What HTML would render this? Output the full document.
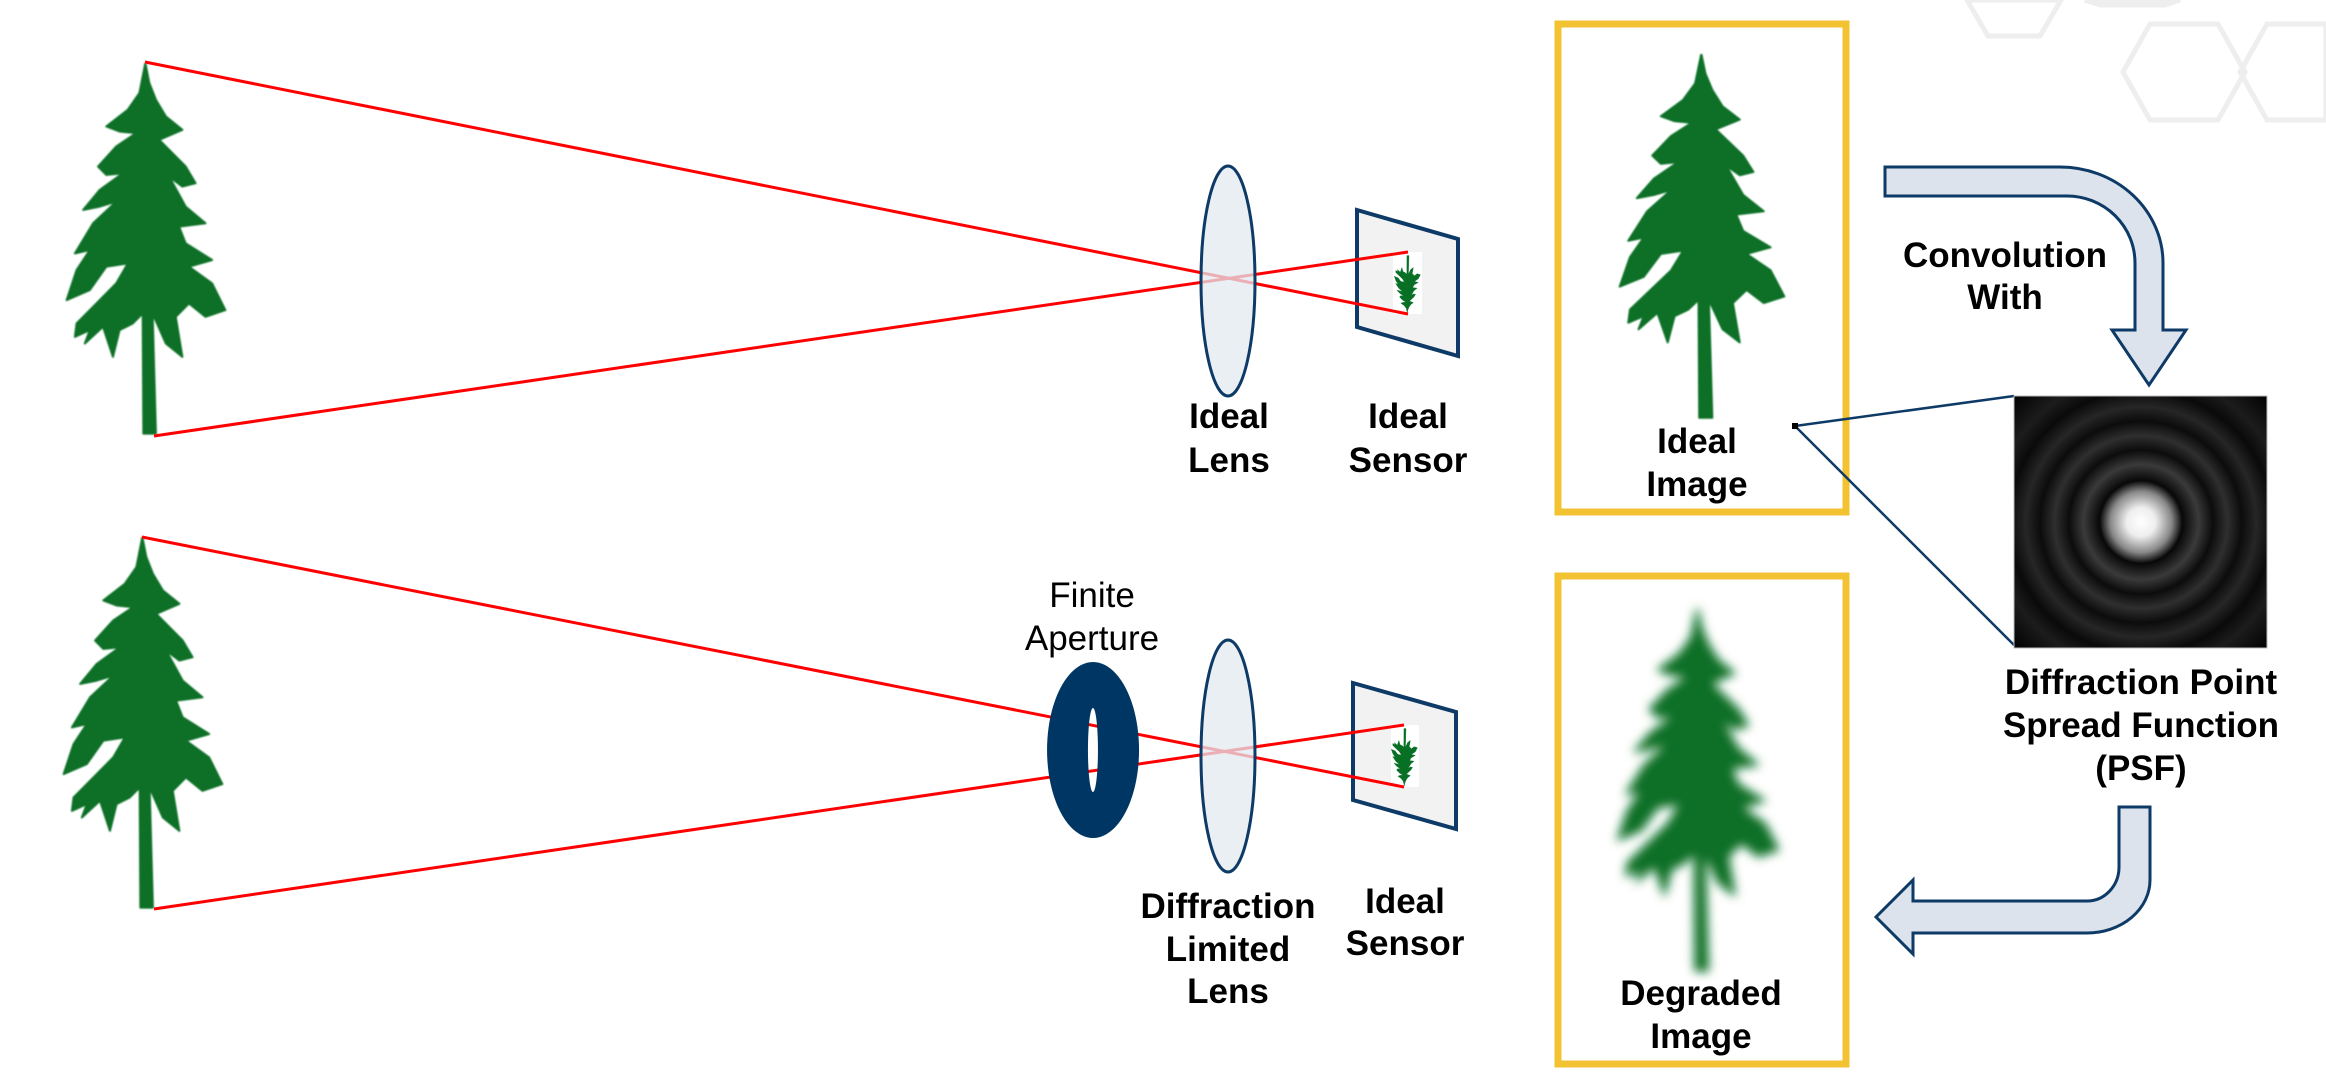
<!DOCTYPE html>
<html><head><meta charset="utf-8"><style>
html,body{margin:0;padding:0;background:#fff;}
svg{display:block;}
text{font-family:"Liberation Sans",Arial,sans-serif;fill:#000;}
.b{font-weight:bold;font-size:35px;}
</style></head><body>
<svg width="2326" height="1083" viewBox="0 0 2326 1083" xmlns="http://www.w3.org/2000/svg">
<defs>
<symbol id="tree" viewBox="75 40 490 1120" preserveAspectRatio="none">
<polygon fill="#077025" stroke="#077025" stroke-width="6" stroke-linejoin="round" points="318,40 300,130 265,180 200,230 240,245 290,250 230,290 175,350 200,375 250,370 180,420 130,480 180,470 230,455 160,520 105,610 150,600 110,660 80,750 150,720 200,650 265,640 230,700 170,760 110,820 105,860 150,840 135,880 190,830 220,920 240,840 280,820 310,790 312,1150 350,1150 340,790 380,880 430,920 410,800 450,760 500,800 560,780 520,700 450,650 520,630 440,580 420,530 500,520 440,470 390,380 430,410 470,400 440,350 390,300 360,270 430,240 380,200 350,150 330,100"/>
</symbol>
<filter id="blur" x="-20%" y="-20%" width="140%" height="140%"><feGaussianBlur stdDeviation="5"/></filter>
<filter id="soft"><feGaussianBlur stdDeviation="0.8"/></filter>
<radialGradient id="psf" cx="2141" cy="522" r="180" gradientUnits="userSpaceOnUse">
<stop offset="0" stop-color="#fff"/>
<stop offset="0.08" stop-color="#eee"/>
<stop offset="0.17" stop-color="#888"/>
<stop offset="0.23" stop-color="#080808"/>
<stop offset="0.32" stop-color="#3a3a3a"/>
<stop offset="0.40" stop-color="#0c0c0c"/>
<stop offset="0.48" stop-color="#2f2f2f"/>
<stop offset="0.56" stop-color="#0c0c0c"/>
<stop offset="0.64" stop-color="#262626"/>
<stop offset="0.73" stop-color="#0a0a0a"/>
<stop offset="0.82" stop-color="#1c1c1c"/>
<stop offset="1" stop-color="#000"/>
</radialGradient>
</defs>

<!-- faint hexagons -->
<g fill="none" stroke="#eeeeee" stroke-width="5">
<polygon points="1967,0 2061,0 2040,36 1988,36"/>
<polygon points="2123,72 2150,24 2218,24 2245,72 2218,120 2150,120"/>
<polygon points="2240,72 2267,24 2326,24 2326,120 2267,120"/>
<polygon points="2085,0 2180,0 2165,5 2100,5"/>
</g>

<!-- trees -->
<use href="#tree" x="65" y="63" width="162" height="374" filter="url(#soft)"/>
<use href="#tree" x="62" y="537" width="162" height="374" filter="url(#soft)"/>

<!-- top system -->
<polygon points="1357,210 1458,239 1458,356 1357,327" fill="#f2f2f2" stroke="#0d3a66" stroke-width="4"/>
<rect x="1393" y="252" width="29" height="62" fill="#fff"/>
<use href="#tree" x="0" y="0" width="162" height="374" transform="translate(1394,313) scale(0.165,-0.155)"/>
<line x1="145" y1="62" x2="1408" y2="314" stroke="#ff0000" stroke-width="3"/>
<line x1="154" y1="436" x2="1408" y2="252" stroke="#ff0000" stroke-width="3"/>
<ellipse cx="1228" cy="281" rx="27" ry="115" fill="#e3e9f0" fill-opacity="0.75" stroke="#0d3a66" stroke-width="3"/>
<text class="b" x="1229" y="428" text-anchor="middle">Ideal</text>
<text class="b" x="1229" y="472" text-anchor="middle">Lens</text>
<text class="b" x="1408" y="428" text-anchor="middle">Ideal</text>
<text class="b" x="1408" y="472" text-anchor="middle">Sensor</text>

<!-- bottom system -->
<polygon points="1353,683 1456,712 1456,829 1353,800" fill="#f2f2f2" stroke="#0d3a66" stroke-width="4"/>
<rect x="1391" y="725" width="28" height="62" fill="#fff"/>
<use href="#tree" x="0" y="0" width="162" height="374" transform="translate(1391,786) scale(0.165,-0.155)"/>
<line x1="142" y1="537" x2="1404" y2="787" stroke="#ff0000" stroke-width="3"/>
<line x1="154" y1="909" x2="1404" y2="725" stroke="#ff0000" stroke-width="3"/>
<path d="M1093,662 a46,88 0 1,0 0.1,0 Z M1093,708 a5,42 0 1,1 -0.1,0 Z" fill="#003663" fill-rule="evenodd"/>
<ellipse cx="1228" cy="756" rx="27" ry="116" fill="#e3e9f0" fill-opacity="0.75" stroke="#0d3a66" stroke-width="3"/>
<text x="1092" y="607" text-anchor="middle" font-size="35">Finite</text>
<text x="1092" y="650" text-anchor="middle" font-size="35">Aperture</text>
<text class="b" x="1228" y="918" text-anchor="middle">Diffraction</text>
<text class="b" x="1228" y="961" text-anchor="middle">Limited</text>
<text class="b" x="1228" y="1003" text-anchor="middle">Lens</text>
<text class="b" x="1405" y="913" text-anchor="middle">Ideal</text>
<text class="b" x="1405" y="955" text-anchor="middle">Sensor</text>

<!-- image boxes -->
<rect x="1558" y="24" width="288" height="488" fill="#fff" stroke="#f2c230" stroke-width="7"/>
<use href="#tree" x="1618" y="54" width="168" height="367" filter="url(#soft)"/>
<text class="b" x="1697" y="453" text-anchor="middle">Ideal</text>
<text class="b" x="1697" y="496" text-anchor="middle">Image</text>

<rect x="1558" y="576" width="288" height="488" fill="#fff" stroke="#f2c230" stroke-width="7"/>
<use href="#tree" x="1616" y="608" width="164" height="366" filter="url(#blur)"/>
<text class="b" x="1701" y="1005" text-anchor="middle">Degraded</text>
<text class="b" x="1701" y="1048" text-anchor="middle">Image</text>

<!-- connector to PSF -->
<line x1="1795" y1="426" x2="2014" y2="396" stroke="#0d3a66" stroke-width="2.5"/>
<line x1="1795" y1="426" x2="2014" y2="645" stroke="#0d3a66" stroke-width="2.5"/>
<rect x="1792" y="423" width="6" height="6" fill="#000"/>

<!-- PSF -->
<rect x="2014" y="396" width="253" height="252" fill="url(#psf)" stroke="#bbb" stroke-width="1"/>
<text class="b" x="2141" y="694" text-anchor="middle" font-size="36">Diffraction Point</text>
<text class="b" x="2141" y="737" text-anchor="middle" font-size="36">Spread Function</text>
<text class="b" x="2141" y="780" text-anchor="middle" font-size="36">(PSF)</text>

<!-- top curved arrow -->
<path d="M1885,167 L2060,167 A103,96 0 0 1 2163,263 L2163,330 L2186,330 L2149,385 L2112,330 L2135,330 L2135,263 A68,67 0 0 0 2067,196 L1885,196 Z" fill="#dce3ed" stroke="#0d3a66" stroke-width="3" stroke-linejoin="miter"/>
<text class="b" x="2005" y="267" text-anchor="middle">Convolution</text>
<text class="b" x="2005" y="309" text-anchor="middle">With</text>

<!-- bottom curved arrow -->
<path d="M2119,807 L2150,807 L2150,880 A63,53 0 0 1 2087,933 L1913,933 L1913,954 L1876,917 L1913,880 L1913,901 L2087,901 A32,34 0 0 0 2119,867 Z" fill="#dce3ed" stroke="#0d3a66" stroke-width="3"/>
</svg>
</body></html>
